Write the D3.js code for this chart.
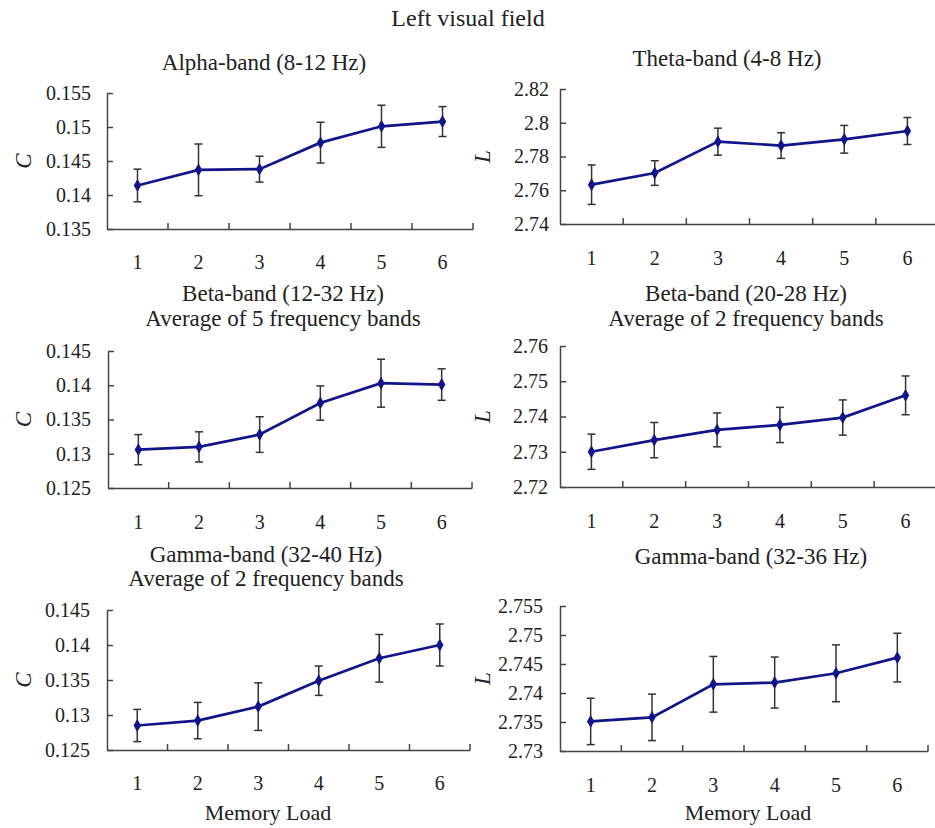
<!DOCTYPE html>
<html>
<head>
<meta charset="utf-8">
<script src="https://cdn.jsdelivr.net/npm/d3@7"></script>
<style>
  body { margin: 0; background: #fff; }
  svg text { font-family: "Liberation Serif", "Times New Roman", serif; fill: #222; }
</style>
</head>
<body>
<svg id="chart" width="935" height="828"></svg>
<script>
// ========================
// Data
// ========================
const loads = [1, 2, 3, 4, 5, 6];

const alphaMean = [0.1414, 0.1437, 0.1438, 0.1477, 0.1501, 0.1508];
const alphaErr  = [0.0024, 0.0038, 0.0019, 0.0030, 0.0031, 0.0022];
const alphaTicks = [0.135, 0.14, 0.145, 0.15, 0.155];

const thetaMean = [2.7633, 2.7702, 2.7888, 2.7865, 2.7902, 2.7951];
const thetaErr  = [0.0117, 0.0073, 0.0080, 0.0076, 0.0082, 0.0080];
const thetaTicks = [2.74, 2.76, 2.78, 2.8, 2.82];

const betaCMean = [0.1306, 0.1310, 0.1328, 0.1374, 0.1403, 0.1401];
const betaCErr  = [0.0022, 0.0022, 0.0026, 0.0025, 0.0035, 0.0023];
const betaCTicks = [0.125, 0.13, 0.135, 0.14, 0.145];

const betaLMean = [2.7300, 2.7333, 2.7362, 2.7376, 2.7397, 2.7460];
const betaLErr  = [0.0050, 0.0050, 0.0048, 0.0050, 0.0050, 0.0055];
const betaLTicks = [2.72, 2.73, 2.74, 2.75, 2.76];

const gammaCMean = [0.1285, 0.1292, 0.1312, 0.1349, 0.1381, 0.1400];
const gammaCErr  = [0.0023, 0.0026, 0.0034, 0.0021, 0.0034, 0.0030];
const gammaCTicks = [0.125, 0.13, 0.135, 0.14, 0.145];

const gammaLMean = [2.7351, 2.7358, 2.7415, 2.7418, 2.7434, 2.7461];
const gammaLErr  = [0.0040, 0.0040, 0.0048, 0.0044, 0.0049, 0.0042];
const gammaLTicks = [2.73, 2.735, 2.74, 2.745, 2.75, 2.755];

// ========================
// Panels (layout)
// ========================
const panels = [
  { title: ["Alpha-band (8-12 Hz)"], titleX: 264, titleY: [62],
    mean: alphaMean, err: alphaErr, ticks: alphaTicks, yLabel: "C", yLabelX: 23,
    x0: 107, x1: 473, y0: 93, y1: 229, labelPad: 16, xLabelY: 262 },
  { title: ["Theta-band (4-8 Hz)"], titleX: 727, titleY: [58],
    mean: thetaMean, err: thetaErr, ticks: thetaTicks, yLabel: "L", yLabelX: 482,
    x0: 560, x1: 939, y0: 89, y1: 224, labelPad: 11, xLabelY: 258 },
  { title: ["Beta-band (12-32 Hz)", "Average of 5 frequency bands"], titleX: 283, titleY: [293, 318],
    mean: betaCMean, err: betaCErr, ticks: betaCTicks, yLabel: "C", yLabelX: 23,
    x0: 108, x1: 472, y0: 351, y1: 488, labelPad: 17, xLabelY: 522 },
  { title: ["Beta-band (20-28 Hz)", "Average of 2 frequency bands"], titleX: 746, titleY: [293, 318],
    mean: betaLMean, err: betaLErr, ticks: betaLTicks, yLabel: "L", yLabelX: 482,
    x0: 560, x1: 937, y0: 346, y1: 487, labelPad: 12, xLabelY: 521 },
  { title: ["Gamma-band (32-40 Hz)", "Average of 2 frequency bands"], titleX: 266, titleY: [554, 578],
    mean: gammaCMean, err: gammaCErr, ticks: gammaCTicks, yLabel: "C", yLabelX: 23,
    x0: 107, x1: 470, y0: 610, y1: 750, labelPad: 17, xLabelY: 783, xTitle: "Memory Load", xTitleX: 268, xTitleY: 812 },
  { title: ["Gamma-band (32-36 Hz)"], titleX: 751, titleY: [556],
    mean: gammaLMean, err: gammaLErr, ticks: gammaLTicks, yLabel: "L", yLabelX: 482,
    x0: 560, x1: 928, y0: 606, y1: 751, labelPad: 17, xLabelY: 785, xTitle: "Memory Load", xTitleX: 748, xTitleY: 812 }
];

const axisColor = "#444";
const lineColor = "#14148a";
const fmt = v => String(+v.toFixed(4));

const svg = d3.select("#chart");

svg.append("text")
  .attr("x", 468).attr("y", 18)
  .attr("text-anchor", "middle").attr("dy", "0.35em")
  .style("font-size", "24px")
  .text("Left visual field");

panels.forEach(p => {
  const x = d3.scaleBand().domain(loads).range([p.x0, p.x1]);
  const y = d3.scaleLinear()
    .domain([p.ticks[0], p.ticks[p.ticks.length - 1]])
    .range([p.y1, p.y0]);

  const g = svg.append("g");

  // title
  p.title.forEach((t, i) => {
    g.append("text")
      .attr("x", p.titleX).attr("y", p.titleY[i])
      .attr("text-anchor", "middle").attr("dy", "0.35em")
      .style("font-size", "23px")
      .text(t);
  });

  // y axis, ticks pointing inward
  const yAxis = g.append("g")
    .attr("transform", `translate(${p.x0},0)`)
    .call(d3.axisLeft(y).tickValues(p.ticks).tickFormat(fmt)
      .tickSizeInner(-6).tickSizeOuter(0).tickPadding(p.labelPad));
  yAxis.select(".domain").attr("stroke", axisColor).attr("stroke-width", 1.5);
  yAxis.selectAll(".tick line").attr("stroke", axisColor).attr("stroke-width", 1.5);
  yAxis.selectAll(".tick text")
    .style("font-family", "'Liberation Serif', 'Times New Roman', serif")
    .style("font-size", "20px").attr("fill", "#222");

  // x axis: labels at category centres, ticks at band boundaries pointing up
  const xAxis = g.append("g")
    .attr("transform", `translate(0,${p.y1})`)
    .call(d3.axisBottom(x).tickSize(0).tickPadding(0));
  xAxis.select(".domain").attr("stroke", axisColor).attr("stroke-width", 1.5);
  xAxis.selectAll(".tick text")
    .attr("y", p.xLabelY - p.y1).attr("dy", "0.35em")
    .style("font-family", "'Liberation Serif', 'Times New Roman', serif")
    .style("font-size", "20px").attr("fill", "#222");

  g.selectAll(".xb")
    .data(loads)
    .enter().append("line")
    .attr("x1", d => x(d) + x.bandwidth())
    .attr("x2", d => x(d) + x.bandwidth())
    .attr("y1", p.y1).attr("y2", p.y1 - 6)
    .attr("stroke", axisColor).attr("stroke-width", 1.5);

  // y label
  g.append("text")
    .attr("transform", `translate(${p.yLabelX},${(p.y0 + p.y1) / 2}) rotate(-90)`)
    .attr("text-anchor", "middle").attr("dy", "0.35em")
    .style("font-size", "23px").style("font-style", "italic")
    .text(p.yLabel);

  if (p.xTitle) {
    g.append("text")
      .attr("x", p.xTitleX).attr("y", p.xTitleY)
      .attr("text-anchor", "middle").attr("dy", "0.35em")
      .style("font-size", "22px")
      .text(p.xTitle);
  }

  const cx = d => x(d) + x.bandwidth() / 2;
  const pts = loads.map((d, i) => ({ load: d, m: p.mean[i], e: p.err[i] }));

  // error bars
  const eb = g.selectAll(".eb").data(pts).enter().append("g")
    .attr("stroke", "#333").attr("stroke-width", 1.5);
  eb.append("line")
    .attr("x1", d => cx(d.load)).attr("x2", d => cx(d.load))
    .attr("y1", d => y(d.m + d.e)).attr("y2", d => y(d.m - d.e));
  eb.append("line")
    .attr("x1", d => cx(d.load) - 4).attr("x2", d => cx(d.load) + 4)
    .attr("y1", d => y(d.m + d.e)).attr("y2", d => y(d.m + d.e));
  eb.append("line")
    .attr("x1", d => cx(d.load) - 4).attr("x2", d => cx(d.load) + 4)
    .attr("y1", d => y(d.m - d.e)).attr("y2", d => y(d.m - d.e));

  // line
  g.append("path")
    .datum(pts)
    .attr("fill", "none")
    .attr("stroke", lineColor)
    .attr("stroke-width", 2.7)
    .attr("d", d3.line().x(d => cx(d.load)).y(d => y(d.m)));

  // markers
  g.selectAll(".mk").data(pts).enter().append("path")
    .attr("transform", d => `translate(${cx(d.load)},${y(d.m)})`)
    .attr("d", d3.symbol().type(d3.symbolDiamond).size(48))
    .attr("fill", lineColor);
});
</script>
</body>
</html>
